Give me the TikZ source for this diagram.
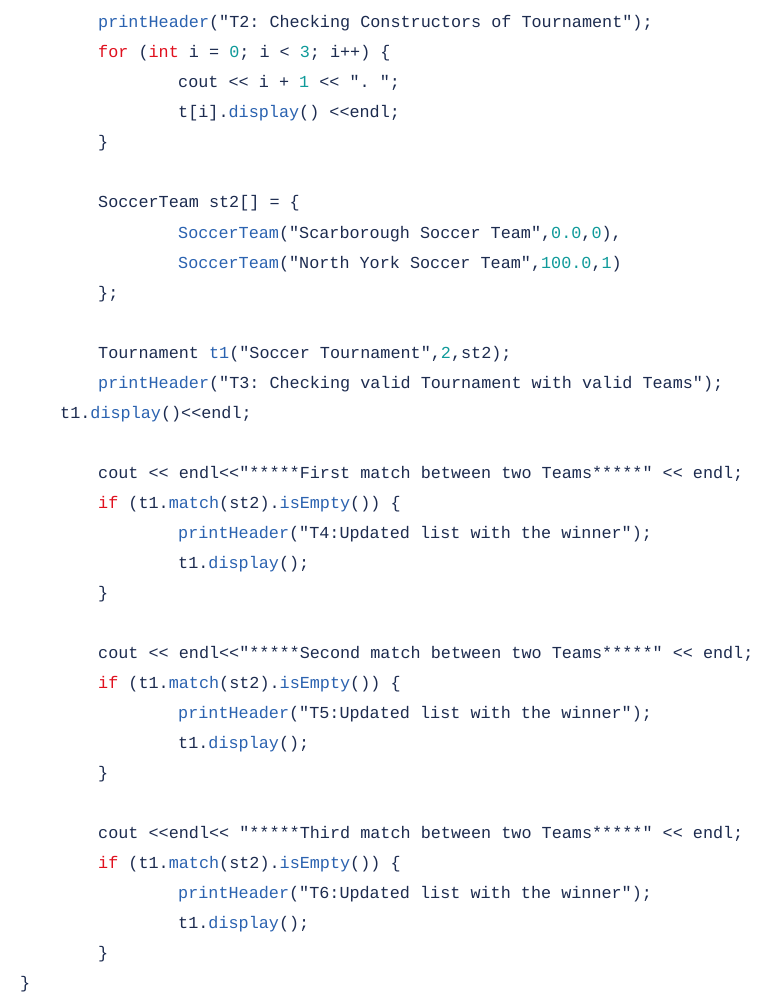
\documentclass[tikz,border=0pt]{standalone}
\usepackage{fontspec}
\setmonofont{Liberation Mono}
\definecolor{txt}{HTML}{1C2B4F}
\definecolor{fn}{HTML}{2A62B0}
\definecolor{kw}{HTML}{E0101E}
\definecolor{num}{HTML}{0F9A9A}
\newcommand{\Fn}[1]{\textcolor{fn}{#1}}
\newcommand{\Kw}[1]{\textcolor{kw}{#1}}
\newcommand{\Nm}[1]{\textcolor{num}{#1}}
\tikzset{code/.style={anchor=base west,inner sep=0pt,text=txt,font=\ttfamily\fontsize{16.8}{20}\selectfont}}
\begin{document}
\begin{tikzpicture}[x=1pt,y=1pt]
\useasboundingbox[fill=white] (0,0) rectangle (757,-1000);
\node[code] (l1) at (98,-28) {\Fn{printHeader}("T2: Checking Constructors of Tournament");};
\node[code] (l2) at (98,-58) {\Kw{for} (\Kw{int} i = \Nm{0}; i < \Nm{3}; i++) \{};
\node[code] (l3) at (178,-88) {cout << i + \Nm{1} << ". ";};
\node[code] (l4) at (178,-118) {t[i].\Fn{display}() <<endl;};
\node[code] (l5) at (98,-148) {\}};
\node[code] (l6) at (98,-208) {SoccerTeam st2[] = \{};
\node[code] (l7) at (178,-238) {\Fn{SoccerTeam}("Scarborough Soccer Team",\Nm{0.0},\Nm{0}),};
\node[code] (l8) at (178,-268) {\Fn{SoccerTeam}("North York Soccer Team",\Nm{100.0},\Nm{1})};
\node[code] (l9) at (98,-298) {\};};
\node[code] (l10) at (98,-358) {Tournament \Fn{t1}("Soccer Tournament",\Nm{2},st2);};
\node[code] (l11) at (98,-388) {\Fn{printHeader}("T3: Checking valid Tournament with valid Teams");};
\node[code] (l12) at (60,-418) {t1.\Fn{display}()<<endl;};
\node[code] (l13) at (98,-478) {cout << endl<<"*****First match between two Teams*****" << endl;};
\node[code] (l14) at (98,-508) {\Kw{if} (t1.\Fn{match}(st2).\Fn{isEmpty}()) \{};
\node[code] (l15) at (178,-538) {\Fn{printHeader}("T4:Updated list with the winner");};
\node[code] (l16) at (178,-568) {t1.\Fn{display}();};
\node[code] (l17) at (98,-598) {\}};
\node[code] (l18) at (98,-658) {cout << endl<<"*****Second match between two Teams*****" << endl;};
\node[code] (l19) at (98,-688) {\Kw{if} (t1.\Fn{match}(st2).\Fn{isEmpty}()) \{};
\node[code] (l20) at (178,-718) {\Fn{printHeader}("T5:Updated list with the winner");};
\node[code] (l21) at (178,-748) {t1.\Fn{display}();};
\node[code] (l22) at (98,-778) {\}};
\node[code] (l23) at (98,-838) {cout <<endl<< "*****Third match between two Teams*****" << endl;};
\node[code] (l24) at (98,-868) {\Kw{if} (t1.\Fn{match}(st2).\Fn{isEmpty}()) \{};
\node[code] (l25) at (178,-898) {\Fn{printHeader}("T6:Updated list with the winner");};
\node[code] (l26) at (178,-928) {t1.\Fn{display}();};
\node[code] (l27) at (98,-958) {\}};
\node[code] (l28) at (20,-988) {\}};
\end{tikzpicture}
\end{document}
